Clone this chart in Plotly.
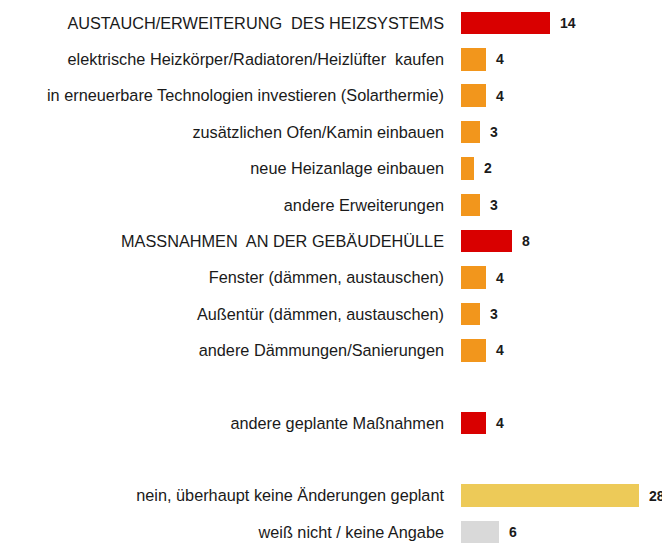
import plotly.graph_objects as go

# None marks an empty spacer row
labels = [
    "AUSTAUCH/ERWEITERUNG  DES HEIZSYSTEMS",
    "elektrische Heizkörper/Radiatoren/Heizlüfter  kaufen",
    "in erneuerbare Technologien investieren (Solarthermie)",
    "zusätzlichen Ofen/Kamin einbauen",
    "neue Heizanlage einbauen",
    "andere Erweiterungen",
    "MASSNAHMEN  AN DER GEBÄUDEHÜLLE",
    "Fenster (dämmen, austauschen)",
    "Außentür (dämmen, austauschen)",
    "andere Dämmungen/Sanierungen",
    None,
    "andere geplante Maßnahmen",
    None,
    "nein, überhaupt keine Änderungen geplant",
    "weiß nicht / keine Angabe",
]
values = [14, 4, 4, 3, 2, 3, 8, 4, 3, 4, None, 4, None, 28, 6]
kinds = ["main", "sub", "sub", "sub", "sub", "sub", "main", "sub", "sub", "sub",
         None, "main", None, "none", "dk"]

COLORS = {"main": "#D90000", "sub": "#F2961C", "none": "#EDCA58", "dk": "#D9D9D9"}

rows = [i for i, lab in enumerate(labels) if lab is not None]
ys = rows
xs = [values[i] for i in rows]
cols = [COLORS[kinds[i]] for i in rows]
ticktext = [labels[i] for i in rows]

fig = go.Figure()
fig.add_trace(
    go.Bar(
        x=xs,
        y=ys,
        orientation="h",
        marker=dict(color=cols, line=dict(width=0)),
        width=0.62,
        hoverinfo="skip",
    )
)

for x, y in zip(xs, ys):
    fig.add_annotation(
        x=x, y=y, text=f"<b>{x}</b>", showarrow=False,
        xanchor="left", xshift=8, font=dict(size=14, color="#1a1a1a"),
    )

FONT = "Liberation Sans, Arial, sans-serif"
fig.update_layout(
    width=662,
    height=537,
    margin=dict(l=453, r=0, t=0, b=0),
    paper_bgcolor="white",
    plot_bgcolor="white",
    font=dict(family=FONT, size=14, color="#1a1a1a"),
    showlegend=False,
    bargap=0,
    xaxis=dict(range=[0, 32.91], visible=False),
    yaxis=dict(
        range=[14.356, -0.4125],
        tickmode="array",
        tickvals=ys,
        ticktext=ticktext,
        showgrid=False,
        zeroline=False,
        showline=False,
        ticks="",
        ticklabelstandoff=16,
        tickfont=dict(size=16.3, color="#1a1a1a"),
    ),
)

fig.write_html("out.html")
